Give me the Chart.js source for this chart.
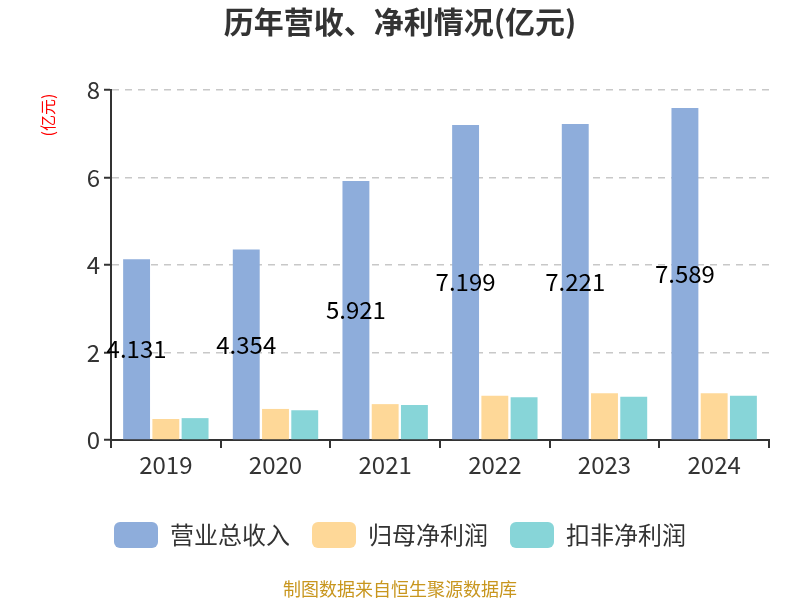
<!DOCTYPE html>
<html>
<head>
<meta charset="utf-8">
<script src="https://cdn.jsdelivr.net/npm/chart.js@4"></script>
<style>
body{margin:0;background:#fff}
</style>
</head>
<body>
<canvas id="myChart" width="800" height="600"></canvas>
<script>
// data
const years = ["2019", "2020", "2021", "2022", "2023", "2024"];
const revenue = [4.131, 4.354, 5.921, 7.199, 7.221, 7.589];
const netProfit = [0.48, 0.71, 0.82, 1.01, 1.07, 1.07];
const deductedProfit = [0.50, 0.68, 0.80, 0.98, 0.99, 1.01];
const seriesNames = ["营业总收入", "归母净利润", "扣非净利润"];
const yTicks = [0, 2, 4, 6, 8];

const font = "'Noto Sans CJK SC', 'Noto Sans', sans-serif";
const colors = ["#8eaddb", "#fed898", "#87d5d8"];

// title, y unit, footer and value labels
const extras = {
  id: "extras",
  afterDraw(chart) {
    const ctx = chart.ctx;
    ctx.save();
    ctx.fillStyle = "#333";
    ctx.font = "bold 30px " + font;
    ctx.textAlign = "center";
    ctx.textBaseline = "middle";
    ctx.fillText("历年营收、净利情况(亿元)", 400, 22);

    ctx.fillStyle = "#c8961e";
    ctx.font = "18px " + font;
    ctx.fillText("制图数据来自恒生聚源数据库", 400, 589);

    ctx.save();
    ctx.translate(48, 115);
    ctx.rotate(-Math.PI / 2);
    ctx.fillStyle = "#ff0000";
    ctx.font = "16px " + font;
    ctx.fillText("(亿元)", 0, 0);
    ctx.restore();

    // labels in the middle of revenue bars
    const meta = chart.getDatasetMeta(0);
    ctx.fillStyle = "#000";
    ctx.font = "24px " + font;
    meta.data.forEach(function (bar, i) {
      const mid = (bar.y + bar.base) / 2;
      ctx.fillText(revenue[i].toFixed(3), bar.x, mid);
    });
    ctx.restore();
  }
};

new Chart("myChart", {
  type: "bar",
  data: {
    labels: years,
    datasets: [
      {label: seriesNames[0], data: revenue, backgroundColor: colors[0]},
      {label: seriesNames[1], data: netProfit, backgroundColor: colors[1]},
      {label: seriesNames[2], data: deductedProfit, backgroundColor: colors[2]}
    ]
  },
  options: {
    responsive: false,
    animation: false,
    devicePixelRatio: 1,
    layout: {padding: {top: 90, right: 31, bottom: 42, left: 31}},
    datasets: {bar: {categoryPercentage: 0.8, barPercentage: 0.92}},
    plugins: {
      title: {display: false},
      tooltip: {enabled: false},
      legend: {
        position: "bottom",
        labels: {
          font: {family: font, size: 24},
          color: "#333",
          boxWidth: 44,
          boxHeight: 26,
          useBorderRadius: true,
          borderRadius: 6,
          padding: 22
        }
      }
    },
    scales: {
      x: {
        grid: {display: true, drawOnChartArea: false, offset: true, tickLength: 8, color: "#333", lineWidth: 2},
        border: {display: true, color: "#333", width: 2},
        ticks: {font: {family: font, size: 24}, color: "#333", padding: 2},
        afterFit(s) { s.height = 60; }
      },
      y: {
        min: 0,
        max: 8,
        afterBuildTicks(s) { s.ticks = yTicks.map(v => ({value: v})); },
        grid: {
          color: (c) => c.tick && c.tick.value === 0 ? "rgba(0,0,0,0)" : "#c8c8c8",
          lineWidth: 1.5,
          tickLength: 7,
          tickColor: "#333",
          tickBorderDash: [],
          tickWidth: 2
        },
        border: {display: true, color: "#333", width: 2, dash: [7, 6]},
        ticks: {font: {family: font, size: 24}, color: "#333", padding: 4},
        afterFit(s) { s.width = 80; }
      }
    }
  },
  plugins: [extras]
});
</script>
</body>
</html>
